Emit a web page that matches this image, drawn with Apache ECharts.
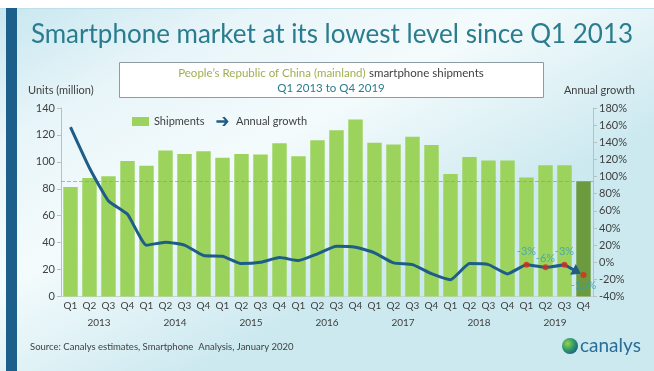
<!DOCTYPE html>
<html>
<head>
<meta charset="utf-8">
<script src="https://cdn.jsdelivr.net/npm/echarts@6/dist/echarts.min.js"></script>
<style>
html,body{margin:0;padding:0;background:#fff;}
#c{width:654px;height:371px;}
</style>
</head>
<body>
<div id="c"></div>
<script>
// ---- data ----
var quarters = ['Q1','Q2','Q3','Q4','Q1','Q2','Q3','Q4','Q1','Q2','Q3','Q4','Q1','Q2','Q3','Q4',
                'Q1','Q2','Q3','Q4','Q1','Q2','Q3','Q4','Q1','Q2','Q3','Q4'];
var years = ['2013','2014','2015','2016','2017','2018','2019'];
var shipments = [81.4, 88.0, 89.3, 100.7, 97.2, 108.4, 105.9, 107.9, 103.0, 105.9, 105.4, 113.8,
                 104.2, 116.1, 123.5, 131.5, 114.1, 112.9, 118.6, 112.6, 91.0, 103.7, 101.0, 101.0,
                 88.3, 97.5, 97.5, 85.6];
var growth = [157.7, 110.0, 71.5, 55.9, 19.9, 23.4, 20.0, 7.8, 7.0, -1.6, -0.1, 5.4, 1.9, 9.8,
              18.7, 17.5, 11.0, -0.8, -2.8, -13.4, -20.4, -1.6, -2.8, -13.6, -3, -6, -3, -15];
var highlightFrom = 24; // last four quarters marked with red dots
var leftTicks = {min: 0, max: 140, interval: 20};
var rightTicks = {min: -40, max: 180, interval: 20};

var FONT = 'Lato';
var LINE = '#1e5d87';
var last = shipments.length - 1;

var barData = shipments.map(function (v, i) {
  return i === last ? {value: v, itemStyle: {color: '#6c9a3e'}} : v;
});
var lineData = growth.map(function (v, i) { return i === last ? null : v; });
var dotData = growth.map(function (v, i) {
  if (i < highlightFrom) return null;
  var pos = i === last ? 'bottom' : 'top';
  var dist = i === last ? 2 : (i === highlightFrom + 1 ? 0 : 5);
  return {value: v, label: {position: pos, distance: dist}};
});

function renderArrow(params, api) {
  var a = api.coord([api.value(0), api.value(1)]);
  var b = api.coord([api.value(2), api.value(3)]);
  var dx = b[0] - a[0], dy = b[1] - a[1];
  var L = Math.sqrt(dx * dx + dy * dy), ux = dx / L, uy = dy / L;
  var tip = [b[0] - ux * 3, b[1] - uy * 3];
  var head = 9, half = 6;
  var base = [tip[0] - ux * head, tip[1] - uy * head];
  var p1 = [base[0] - uy * half, base[1] + ux * half];
  var p2 = [base[0] + uy * half, base[1] - ux * half];
  return {
    type: 'group',
    children: [
      {type: 'line', shape: {x1: a[0], y1: a[1], x2: base[0] + ux * 2, y2: base[1] + uy * 2},
        style: {stroke: LINE, lineWidth: 3, lineCap: 'round'}},
      {type: 'polygon', shape: {points: [tip, p1, p2]}, style: {fill: LINE}}
    ]
  };
}

var chart = echarts.init(document.getElementById('c'), null, {renderer: 'canvas'});
chart.setOption({
  backgroundColor: {
    type: 'linear', x: 0, y: 0, x2: 0.3, y2: 1,
    colorStops: [
      {offset: 0, color: '#c6e6ef'},
      {offset: 0.3, color: '#e8f5f9'},
      {offset: 0.6, color: '#f4fbfc'},
      {offset: 1, color: '#cce9f0'}
    ]
  },
  textStyle: {fontFamily: FONT},
  animation: false,
  graphic: [
    {type: 'rect', shape: {x: 0, y: 0, width: 654, height: 8}, style: {fill: '#ffffff'}, z: 10},
    {type: 'rect', shape: {x: 0, y: 8, width: 654, height: 1}, style: {fill: '#bfe0ea'}, z: 10},
    {type: 'rect', shape: {x: 6, y: 8, width: 11, height: 363}, style: {fill: '#1c5f8a'}, z: 10},
    {type: 'text', x: 332, y: 35, z: 10,
      style: {text: 'Smartphone market at its lowest level since Q1 2013', fill: '#2a7d8e',
        align: 'center', verticalAlign: 'middle', font: '26px ' + FONT}},
    {type: 'rect', shape: {x: 119.5, y: 62.5, width: 424, height: 35},
      style: {fill: '#ffffff', stroke: '#8d9ca3', lineWidth: 1}, z: 10},
    {type: 'text', x: 331, y: 73, z: 11,
      style: {
        text: '{g|People\u2019s Republic of China (mainland)} {d|smartphone shipments}',
        align: 'center', verticalAlign: 'middle',
        rich: {
          g: {fill: '#a2ae52', fontSize: 11.5, fontFamily: FONT},
          d: {fill: '#3f3f3f', fontSize: 11.5, fontFamily: FONT}
        }
      }},
    {type: 'text', x: 331, y: 88, z: 11,
      style: {text: 'Q1 2013 to Q4 2019', fill: '#2a7d8e', align: 'center', verticalAlign: 'middle',
        font: '11.5px ' + FONT}},
    {type: 'text', x: 28, y: 90, z: 11,
      style: {text: 'Units (million)', fill: '#3f3f3f', verticalAlign: 'middle', font: '11px ' + FONT}},
    {type: 'text', x: 635, y: 90, z: 11,
      style: {text: 'Annual growth', fill: '#3f3f3f', align: 'right', verticalAlign: 'middle', font: '11px ' + FONT}},
    {type: 'text', x: 30, y: 347, z: 11,
      style: {text: 'Source: Canalys estimates, Smartphone  Analysis, January 2020', fill: '#3f3f3f',
        verticalAlign: 'middle', font: '9.5px ' + FONT}},
    {type: 'circle', shape: {cx: 570, cy: 346, r: 8}, z: 11,
      style: {fill: {type: 'radial', x: 0.35, y: 0.35, r: 0.8,
        colorStops: [{offset: 0, color: '#9ad04a'}, {offset: 0.5, color: '#2e9a6a'}, {offset: 1, color: '#1b4f8a'}]}}},
    {type: 'text', x: 580, y: 346, z: 11,
      style: {text: 'canalys', fill: '#2a6e98', verticalAlign: 'middle', font: '19px ' + FONT}}
  ],
  legend: {
    left: 127, top: 111,
    itemWidth: 17, itemHeight: 9, itemGap: 12,
    textStyle: {color: '#3f3f3f', fontSize: 11, fontFamily: FONT},
    data: [
      {name: 'Shipments', icon: 'rect'},
      {name: 'Annual growth', icon: 'path://M0,5 L13,5 L9,0 L13,0 L19,7 L13,14 L9,14 L13,9 L0,9 Z',
        itemStyle: {color: LINE}}
    ]
  },
  grid: {left: 61, right: 61, top: 108, bottom: 74.5, containLabel: false},
  xAxis: [
    {type: 'category', data: quarters, position: 'bottom',
      axisLine: {show: true, lineStyle: {color: '#c9d3d6'}},
      axisTick: {show: false},
      axisLabel: {color: '#3f3f3f', fontSize: 10, margin: 4, interval: 0, fontFamily: FONT}},
    {type: 'category', data: years, position: 'bottom', offset: 17,
      axisLine: {show: false}, axisTick: {show: false},
      axisLabel: {color: '#3f3f3f', fontSize: 10, margin: 4, interval: 0, fontFamily: FONT}}
  ],
  yAxis: [
    {type: 'value', min: leftTicks.min, max: leftTicks.max, interval: leftTicks.interval,
      axisLine: {show: true, lineStyle: {color: '#b7c1c5'}},
      axisTick: {show: true, length: 4, lineStyle: {color: '#b7c1c5'}},
      splitLine: {show: false},
      axisLabel: {color: '#3f3f3f', fontSize: 11, margin: 6, fontFamily: FONT}},
    {type: 'value', min: rightTicks.min, max: rightTicks.max, interval: rightTicks.interval,
      position: 'right',
      axisLine: {show: true, lineStyle: {color: '#b7c1c5'}},
      axisTick: {show: true, length: 4, lineStyle: {color: '#b7c1c5'}},
      splitLine: {show: false},
      axisLabel: {color: '#3f3f3f', fontSize: 11, margin: 6, formatter: '{value}%', fontFamily: FONT}}
  ],
  series: [
    {name: 'Shipments', type: 'bar', xAxisIndex: 0, yAxisIndex: 0, data: barData,
      barCategoryGap: '24%', itemStyle: {color: '#9cd35c'},
      markLine: {symbol: 'none', silent: true, label: {show: false},
        lineStyle: {color: '#8f9a9e', type: 'dashed', width: 1, opacity: 0.7},
        data: [{yAxis: shipments[last]}]},
      z: 2},
    {name: 'Annual growth', type: 'line', xAxisIndex: 0, yAxisIndex: 1, data: lineData,
      smooth: 0.15, showSymbol: false, symbol: 'none',
      lineStyle: {color: LINE, width: 3}, itemStyle: {color: LINE},
      z: 5},
    {name: 'arrow', type: 'custom', xAxisIndex: 0, yAxisIndex: 1,
      data: [[last - 1, growth[last - 1], last, growth[last]]],
      encode: {x: [0, 2], y: [1, 3]},
      renderItem: renderArrow, silent: true, z: 5},
    {name: 'dots', type: 'scatter', xAxisIndex: 0, yAxisIndex: 1, data: dotData,
      symbol: 'circle', symbolSize: 6, itemStyle: {color: '#e0281e'},
      label: {show: true, color: '#3a9fae', fontSize: 11, fontFamily: FONT,
        formatter: function (p) { return Math.round(p.value) + '%'; }},
      z: 6}
  ]
});
</script>
</body>
</html>
